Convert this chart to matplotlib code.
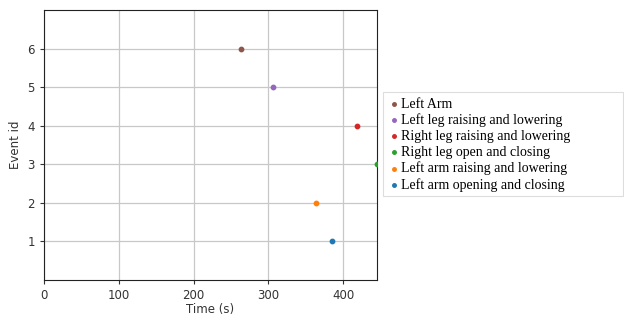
import matplotlib
matplotlib.use("Agg")
import matplotlib.pyplot as plt
from matplotlib.patches import Rectangle

labels = ["Left arm opening and closing", "Left arm raising and lowering",
          "Right leg open and closing", "Right leg raising and lowering",
          "Left leg raising and lowering", "Left Arm"]
times = [385, 364, 445, 418, 306, 263]
event_ids = [1, 2, 3, 4, 5, 6]
colors = ["#1f77b4", "#ff7f0e", "#2ca02c", "#d62728", "#9467bd", "#8c564b"]

fig = plt.figure(figsize=(6.24, 3.22), dpi=100)
ax = fig.add_axes([44/624, 42/322, (377-44)/624, (312-42)/322])

handles = []
for t, e, c, lab in zip(times, event_ids, colors, labels):
    h = ax.scatter([t], [e], s=10, color=c, label=lab, zorder=3)
    handles.append(h)

ax.set_xlim(0, 445)
ax.set_ylim(0, 7)
ax.set_xticks([0, 100, 200, 300, 400])
ax.set_yticks([1, 2, 3, 4, 5, 6])
ax.grid(True, color="#c8c8c8", linewidth=0.9)
ax.set_axisbelow(True)
ax.tick_params(labelsize=8.5, length=3, color="#333333", labelcolor="#333333")
for s in ax.spines.values():
    s.set_color("#222222")
ax.set_xlabel("Time (s)", fontsize=8.5, color="#333333", labelpad=1)
ax.set_ylabel("Event id", fontsize=8.5, color="#333333", labelpad=4)

# legend box extending to the right edge
fig.patches.append(Rectangle((383/624, (322-196)/322), (623-383)/624, (196-92)/322,
                             transform=fig.transFigure, facecolor="white",
                             edgecolor="#dddddd", linewidth=0.8))

leg = fig.legend(handles[::-1], labels[::-1], loc="upper left",
                 bbox_to_anchor=(383/624, (322-92)/322),
                 prop={"family": "Liberation Serif", "size": 10},
                 frameon=False, labelspacing=0.2, handletextpad=0.1,
                 borderpad=0.4, borderaxespad=0, handlelength=0.8,
                 markerscale=0.8)

fig.savefig("out.png", dpi=100)
